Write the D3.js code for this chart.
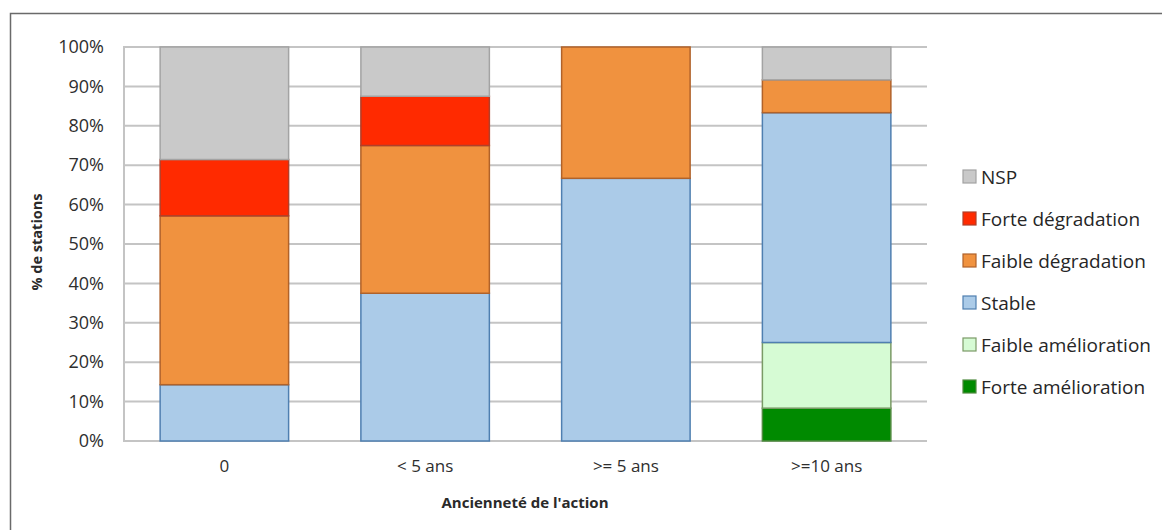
<!DOCTYPE html>
<html>
<head>
<meta charset="utf-8">
<script src="https://cdn.jsdelivr.net/npm/d3@7"></script>
<style>
  html, body { margin: 0; padding: 0; background: #fff; }
  svg { display: block; font-family: "Open Sans", "Lato", sans-serif; }
</style>
</head>
<body>
<svg id="chart" width="1162" height="530"></svg>
<script>
// Categories (age of the action) and the share of stations per trend, in %
const categories = ["0", "< 5 ans", ">= 5 ans", ">=10 ans"];
const forteAmelioration  = [0, 0, 0, 8.33];
const faibleAmelioration = [0, 0, 0, 16.67];
const stable             = [14.29, 37.5, 66.67, 58.33];
const faibleDegradation  = [42.86, 37.5, 33.33, 8.33];
const forteDegradation   = [14.29, 12.5, 0, 0];
const nsp                = [28.57, 12.5, 0, 8.33];
const yTicks = [0, 10, 20, 30, 40, 50, 60, 70, 80, 90, 100];

const seriesNames = ["Forte amélioration", "Faible amélioration", "Stable",
                     "Faible dégradation", "Forte dégradation", "NSP"];
const seriesValues = [forteAmelioration, faibleAmelioration, stable,
                      faibleDegradation, forteDegradation, nsp];
const fills   = ["#008a00", "#d6fbd4", "#abcbe8", "#f0923f", "#ff2a00", "#c9c9c9"];
const strokes = ["#4f8a3f", "#7a9a66", "#4f7fb0", "#b0622a", "#b0402a", "#a3a3a3"];

const rows = categories.map((c, i) => {
  const r = { cat: c };
  seriesNames.forEach((s, k) => { r[s] = seriesValues[k][i]; });
  return r;
});
const stacked = d3.stack().keys(seriesNames)(rows);

const svg = d3.select("#chart");

// outer frame
svg.append("path")
  .attr("d", "M10.5,530 L10.5,13.5 L1162,13.5")
  .attr("fill", "none").attr("stroke", "#6a6a6a").attr("stroke-width", 1.5);

const plot = { left: 124, right: 927, top: 47, bottom: 441 };

const x = d3.scaleBand().domain(categories)
  .range([plot.left, plot.right]).paddingInner(0.36).paddingOuter(0.18);
const y = d3.scaleLinear().domain([0, 100]).range([plot.bottom, plot.top]);

// horizontal gridlines
svg.append("g").selectAll("line").data(yTicks).join("line")
  .attr("x1", plot.left).attr("x2", plot.right)
  .attr("y1", d => y(d)).attr("y2", d => y(d))
  .attr("stroke", "#c4c4c4").attr("stroke-width", 2);

// left axis line
svg.append("line")
  .attr("x1", plot.left).attr("x2", plot.left)
  .attr("y1", plot.top - 1).attr("y2", plot.bottom + 1)
  .attr("stroke", "#c4c4c4").attr("stroke-width", 2);

// y tick labels
const yAxis = d3.axisLeft(y).tickValues(yTicks).tickFormat(d => d + "%").tickSize(0).tickPadding(20);
const gy = svg.append("g").attr("transform", `translate(${plot.left},0)`).call(yAxis);
gy.select(".domain").remove();
gy.selectAll("text").attr("font-size", 18).attr("fill", "#2e2e2e").attr("font-family", "'Open Sans', sans-serif");

// stacked bars
svg.append("g").selectAll("g").data(stacked).join("g")
  .attr("fill", (d, i) => fills[i]).attr("stroke", (d, i) => strokes[i])
  .selectAll("rect").data(d => d.filter(p => p[1] - p[0] > 0)).join("rect")
  .attr("x", d => x(d.data.cat))
  .attr("width", x.bandwidth())
  .attr("y", d => y(d[1]))
  .attr("height", d => y(d[0]) - y(d[1]))
  .attr("stroke-width", 1.5);

// x tick labels
const xAxis = d3.axisBottom(x).tickSize(0).tickPadding(19);
const gx = svg.append("g").attr("transform", `translate(0,${plot.bottom})`).call(xAxis);
gx.select(".domain").remove();
gx.selectAll("text").attr("font-size", 17).attr("fill", "#2e2e2e").attr("font-family", "'Open Sans', sans-serif");

// axis titles
svg.append("text")
  .attr("x", 525).attr("y", 508)
  .attr("text-anchor", "middle").attr("font-size", 15).attr("font-weight", "bold")
  .attr("fill", "#2a2a2a").text("Ancienneté de l'action");

svg.append("text")
  .attr("transform", `translate(42,242) rotate(-90)`)
  .attr("text-anchor", "middle").attr("font-size", 14.5).attr("font-weight", "bold")
  .attr("fill", "#2a2a2a").text("% de stations");

// legend (top-down from NSP)
const legendOrder = d3.range(seriesNames.length).reverse();
const lg = svg.append("g").selectAll("g").data(legendOrder).join("g")
  .attr("transform", (k, i) => `translate(963,${177 + i * 42})`);
lg.append("rect")
  .attr("x", 0).attr("y", -7).attr("width", 13).attr("height", 13)
  .attr("fill", k => fills[k]).attr("stroke", k => strokes[k]).attr("stroke-width", 1.2);
lg.append("text")
  .attr("x", 18).attr("y", 0).attr("dy", "0.35em")
  .attr("font-size", 19).attr("fill", "#262626")
  .text(k => seriesNames[k]);
</script>
</body>
</html>
